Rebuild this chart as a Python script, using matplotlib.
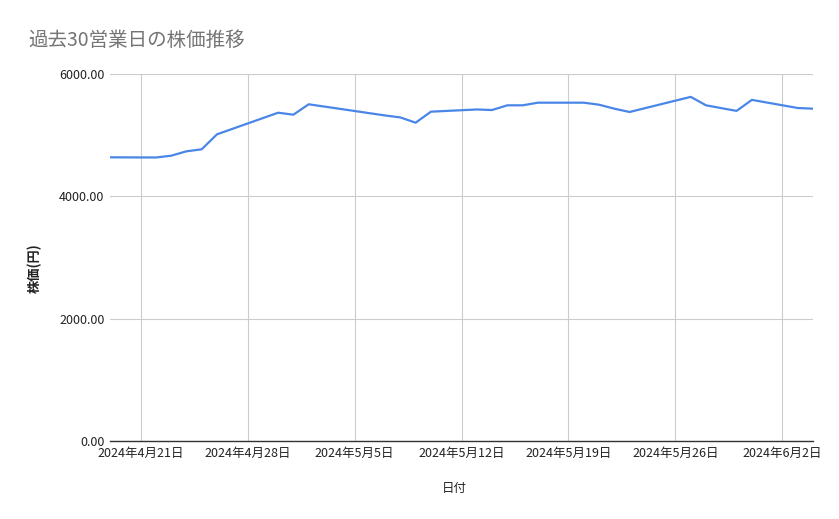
import matplotlib
matplotlib.use("Agg")
import matplotlib.pyplot as plt
import matplotlib.dates as mdates
from matplotlib.ticker import FixedLocator, FuncFormatter
import datetime as dt

plt.rcParams["font.family"] = ["Noto Sans CJK JP", "DejaVu Sans"]

# trading days (Japan) and closing prices
dates = [
    "2024-04-19", "2024-04-22", "2024-04-23", "2024-04-24", "2024-04-25",
    "2024-04-26", "2024-04-30", "2024-05-01", "2024-05-02", "2024-05-07",
    "2024-05-08", "2024-05-09", "2024-05-10", "2024-05-13", "2024-05-14",
    "2024-05-15", "2024-05-16", "2024-05-17", "2024-05-20", "2024-05-21",
    "2024-05-22", "2024-05-23", "2024-05-24", "2024-05-27", "2024-05-28",
    "2024-05-29", "2024-05-30", "2024-05-31", "2024-06-03", "2024-06-04",
]
prices = [
    4638, 4635, 4664, 4736, 4769,
    5014, 5367, 5335, 5505, 5322,
    5290, 5204, 5384, 5420, 5411,
    5488, 5488, 5531, 5531, 5498,
    5433, 5379, 5441, 5626, 5488,
    5442, 5397, 5577, 5444, 5433,
]
x_ticks = ["2024-04-21", "2024-04-28", "2024-05-05", "2024-05-12",
           "2024-05-19", "2024-05-26", "2024-06-02"]
y_ticks = [0, 2000, 4000, 6000]

x = [dt.datetime.strptime(d, "%Y-%m-%d") for d in dates]
xt = [mdates.date2num(dt.datetime.strptime(d, "%Y-%m-%d")) for d in x_ticks]

fig = plt.figure(figsize=(8.39, 5.19), dpi=100)
ax = fig.add_axes([110 / 839, 1 - 441 / 519, (813 - 110) / 839, (441 - 74) / 519])

ax.plot(x, prices, color="#4a86e8", linewidth=1.6, solid_joinstyle="round", zorder=3)

ax.set_xlim(x[0], x[-1])
ax.set_ylim(0, 6000)
ax.xaxis.set_major_locator(FixedLocator(xt))
ax.xaxis.set_major_formatter(FuncFormatter(
    lambda v, p: (lambda d: f"{d.year}年{d.month}月{d.day}日")(mdates.num2date(v))))
ax.yaxis.set_major_locator(FixedLocator(y_ticks))
ax.yaxis.set_major_formatter(FuncFormatter(lambda v, p: f"{v:.2f}"))

ax.grid(True, color="#cccccc", linewidth=0.8, zorder=0)
for s in ["top", "right", "left"]:
    ax.spines[s].set_visible(False)
ax.spines["bottom"].set_color("#333333")
ax.spines["bottom"].set_linewidth(1.0)
ax.tick_params(length=0, labelsize=9, colors="#222222", pad=4)

ax.set_xlabel("日付", fontsize=9, color="#222222")
ax.xaxis.set_label_coords(0.49, -0.112)
ax.set_ylabel("株価(円)", fontsize=9.5, color="#222222", fontweight="bold")
ax.yaxis.set_label_coords(-0.097, 0.47)

fig.text(28 / 839, 1 - 40 / 519, "過去30営業日の株価推移", fontsize=14,
         color="#757575", va="center", ha="left")

fig.savefig("out.png", dpi=100, facecolor="white")
